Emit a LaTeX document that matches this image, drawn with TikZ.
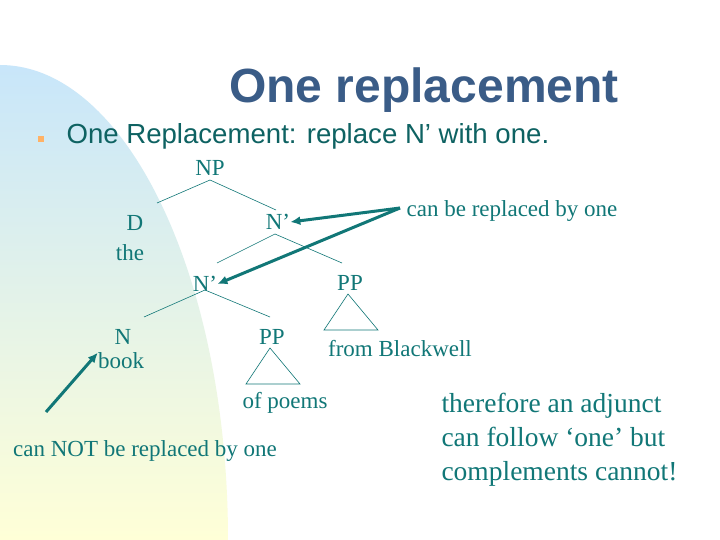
\documentclass[tikz,border=0pt]{standalone}
\usepackage{fontspec}
\setmainfont{Liberation Serif}
\setsansfont{Liberation Sans}
\begin{document}
\begin{tikzpicture}[x=1pt,y=-1pt,
 t/.style={text=teal!85!black,font=\fontsize{23}{23}\selectfont,inner sep=0pt},
 br/.style={draw=teal!85!black,line width=0.6pt},
 ar/.style={draw=teal!85!black,line width=3pt,-{Latex[length=10pt,width=9pt]}}]
\usetikzlibrary{arrows.meta}
\definecolor{teal}{RGB}{20,140,140}
\definecolor{ttl}{RGB}{58,92,135}
\useasboundingbox (0,0) rectangle (720,540);
\fill[white] (0,0) rectangle (720,540);
\shade[top color={rgb,255:red,200;green,230;blue,250},bottom color={rgb,255:red,255;green,255;blue,215}]
  (0,540) -- (0,65) arc[x radius=228,y radius=475,start angle=-90,end angle=0] -- cycle;
\node[text=ttl,font=\sffamily\bfseries\fontsize{48}{48}\selectfont] (title) at (424,90) {One replacement};
\fill[orange!60!white] (38,136) rectangle (44,142);
\node[anchor=west,text=teal!70!black,font=\sffamily\fontsize{27.6}{27.6}\selectfont] (sub) at (63,136) {One Replacement: replace N’ with one.};
\node[t] (np) at (210,168) {NP};
\node[t] (d) at (135,223) {D};
\node[t] (the) at (130,253) {the};
\node[t] (n1) at (278,222) {N’};
\node[t] (n2) at (205,284) {N’};
\node[t] (pp1) at (350,283) {PP};
\node[t] (n) at (123,337) {N};
\node[t] (book) at (121,361) {book};
\node[t] (pp2) at (272,337) {PP};
\node[t] (fb) at (400,349) {from Blackwell};
\node[t] (op) at (285,403) {of poems};
\node[t] (cr) at (512,211) {can be replaced by one};
\node[t] (cnr) at (145,451) {can NOT be replaced by one};
\draw[br] (210,180) -- (157,203) (210,180) -- (276,210);
\draw[br] (275,234) -- (217,263) (275,234) -- (342,263);
\draw[br] (205,290) -- (144,317) (205,290) -- (270,317);
\draw[br] (348,294) -- (324,330) -- (378,330) -- cycle;
\draw[br] (270,348) -- (246,384) -- (300,384) -- cycle;
\coordinate (a0) at (400,208);
\coordinate (b0) at (46,412);
\draw[ar] (a0) -- (n1.east);
\draw[ar] (a0) -- (n2.east);
\draw[ar] (b0) -- (book.north west);
\node[anchor=west,align=left,text=teal!85!black,font=\fontsize{27.5}{34}\selectfont] (rt) at (438,440) {therefore an adjunct\\can follow ‘one’ but\\complements cannot!};
\end{tikzpicture}
\end{document}
